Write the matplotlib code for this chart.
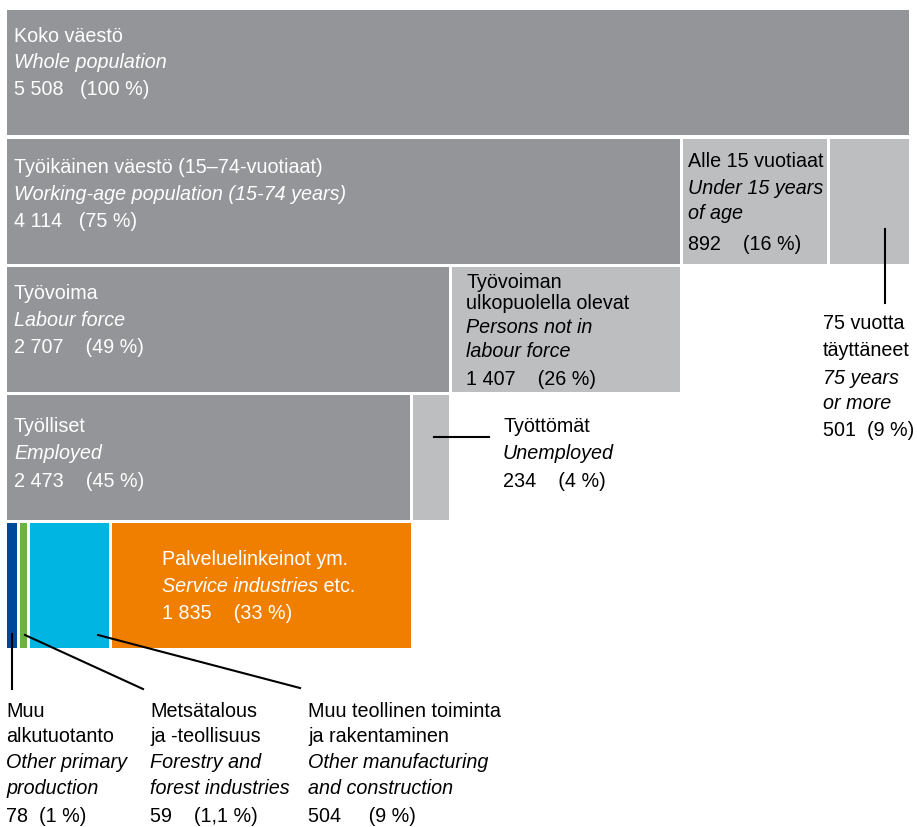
import matplotlib.pyplot as plt
from matplotlib.patches import Rectangle

plt.rcParams['font.family'] = ['Liberation Sans', 'DejaVu Sans']

# väestö tuhansina
whole = [5508]
age_groups = [4114, 892, 501]
labour = [2707, 1407]
employment = [2473, 234]
industries = [78, 59, 504, 1835]

DARK = '#939598'
LIGHT = '#bcbec0'
row_colors = [
    [DARK],
    [DARK, LIGHT, LIGHT],
    [DARK, LIGHT],
    [DARK, LIGHT],
    ['#00489a', '#6db33f', '#00b5e2', '#f07f00'],
]
rows = [whole, age_groups, labour, employment, industries]
row_tops = [10, 139, 267, 395, 523]
row_h = 125
FS = 14.2

W, H = 917, 827
fig = plt.figure(figsize=(W / 100, H / 100), dpi=100)
ax = fig.add_axes([0, 0, 1, 1])
s = 905 / whole[0]          # pikseliä / tuhat
x0 = 7
ax.set_xlim(-x0 / s, (W - x0) / s)
ax.set_ylim(H, 0)
ax.axis('off')
gap = 3 / s


def px(x):
    return (x - x0) / s


for vals, cols, top in zip(rows, row_colors, row_tops):
    left = 0
    for v, c in zip(vals, cols):
        ax.add_patch(Rectangle((left, top), v - gap, row_h, color=c, lw=0))
        left += v


def label(xp, ys, lines, color='black'):
    for y, (t, it) in zip(ys, lines):
        ax.text(px(xp), y + 1.5, t, color=color, fontsize=FS, va='center', ha='left',
                style='italic' if it else 'normal')


label(14, [35, 61, 88], [('Koko väestö', 0), ('Whole population', 1),
                          ('5 508   (100 %)', 0)], 'white')
label(14, [166, 193, 220], [('Työikäinen väestö (15–74-vuotiaat)', 0),
                            ('Working-age population (15-74 years)', 1),
                            ('4 114   (75 %)', 0)], 'white')
label(688, [160, 187, 212, 243], [('Alle 15 vuotiaat', 0), ('Under 15 years', 1),
                                  ('of age', 1), ('892    (16 %)', 0)])
label(823, [322, 349, 377, 402, 429], [('75 vuotta', 0), ('täyttäneet', 0),
                                       ('75 years', 1), ('or more', 1),
                                       ('501  (9 %)', 0)])
label(14, [292, 319, 346], [('Työvoima', 0), ('Labour force', 1),
                            ('2 707    (49 %)', 0)], 'white')
label(466, [281, 302, 326, 350, 378], [('Työvoiman', 0), ('ulkopuolella olevat', 0),
                                       ('Persons not in', 1), ('labour force', 1),
                                       ('1 407    (26 %)', 0)])
label(14, [425, 452, 480], [('Työlliset', 0), ('Employed', 1),
                            ('2 473    (45 %)', 0)], 'white')
label(503, [425, 452, 480], [('Työttömät', 0), ('Unemployed', 1),
                             ('234    (4 %)', 0)])
label(162, [558, 585, 612], [('Palveluelinkeinot ym.', 0), ('Service industries', 1),
                             ('1 835    (33 %)', 0)], 'white')
ax.annotate(' etc.', xy=(1, 0.5), xycoords=ax.texts[-2], color='white',
            fontsize=FS, va='center', ha='left')

label(6, [710, 735, 761, 787, 815], [('Muu', 0), ('alkutuotanto', 0),
                                     ('Other primary', 1), ('production', 1),
                                     ('78  (1 %)', 0)])
label(150, [710, 735, 761, 787, 815], [('Metsätalous', 0), ('ja -teollisuus', 0),
                                       ('Forestry and', 1), ('forest industries', 1),
                                       ('59    (1,1 %)', 0)])
label(308, [710, 735, 761, 787, 815], [('Muu teollinen toiminta', 0),
                                       ('ja rakentaminen', 0),
                                       ('Other manufacturing', 1),
                                       ('and construction', 1),
                                       ('504     (9 %)', 0)])

# viivat
for (xa, ya), (xb, yb) in [((434, 437), (489, 437)), ((885, 229), (885, 303)),
                           ((12, 634), (12, 689)), ((25, 635), (143, 689)),
                           ((98, 635), (300, 688))]:
    ax.plot([px(xa), px(xb)], [ya, yb], color='black', lw=1.5)

fig.savefig('out.png', dpi=100)
